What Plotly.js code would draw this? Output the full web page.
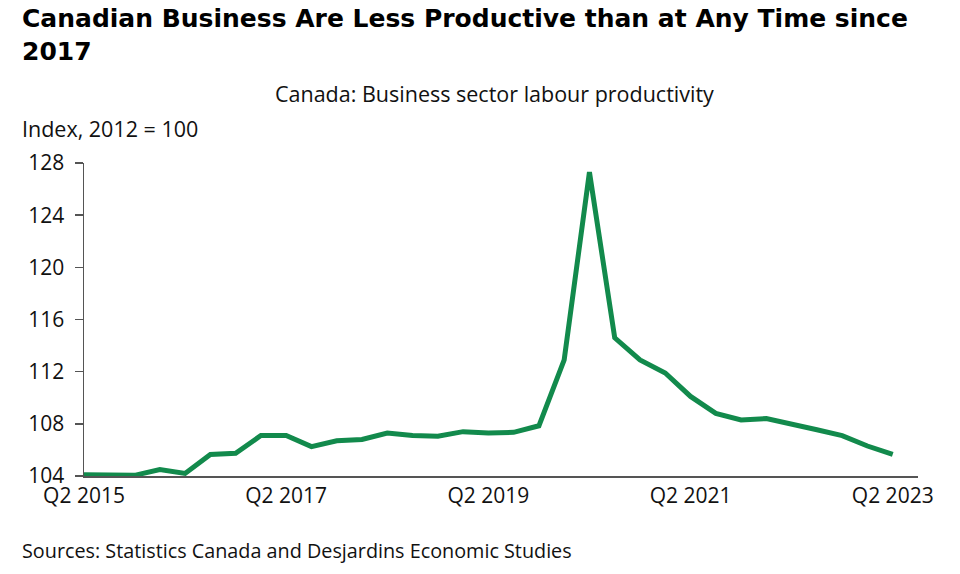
<!DOCTYPE html>
<html>
<head>
<meta charset="utf-8">
<script src="https://cdn.plot.ly/plotly-3.0.1.min.js"></script>
<style>
html, body { margin: 0; padding: 0; background: #fff; }
#chart { width: 960px; height: 574px; }
</style>
</head>
<body>
<div id="chart"></div>
<script>
// Quarters from Q2 2015 to Q2 2023
const quarters = [
  "Q2 2015","Q3 2015","Q4 2015",
  "Q1 2016","Q2 2016","Q3 2016","Q4 2016",
  "Q1 2017","Q2 2017","Q3 2017","Q4 2017",
  "Q1 2018","Q2 2018","Q3 2018","Q4 2018",
  "Q1 2019","Q2 2019","Q3 2019","Q4 2019",
  "Q1 2020","Q2 2020","Q3 2020","Q4 2020",
  "Q1 2021","Q2 2021","Q3 2021","Q4 2021",
  "Q1 2022","Q2 2022","Q3 2022","Q4 2022",
  "Q1 2023","Q2 2023"
];
// Business sector labour productivity, index 2012 = 100
const productivity = [
  104.1, 104.1, 104.05,
  104.5, 104.2, 105.65, 105.75,
  107.1, 107.1, 106.25, 106.7,
  106.8, 107.3, 107.1, 107.05,
  107.4, 107.3, 107.35, 107.85,
  112.9, 127.3, 114.6, 112.9,
  111.9, 110.1, 108.8, 108.3,
  108.4, 108.0, 107.55, 107.1,
  106.3, 105.65
];
const xTickLabels = ["Q2 2015","Q2 2017","Q2 2019","Q2 2021","Q2 2023"];
const yTicks = [104, 108, 112, 116, 120, 124, 128];

const FONT = "Open Sans, Noto Sans, sans-serif";
const TITLE_FONT = "DejaVu Sans, Open Sans, sans-serif";

// plot area geometry helpers (pixels -> paper coords)
const L = 84, R = 42, T = 163, B = 98, W = 960, H = 574;
const PW = W - L - R, PH = H - T - B;
const px = x => (x - L) / PW;
const py = y => (H - B - y) / PH;

const trace = {
  x: quarters,
  y: productivity,
  type: "scatter",
  mode: "lines",
  line: { color: "#128a4c", width: 5 },
  hoverinfo: "x+y"
};

const layout = {
  width: W,
  height: H,
  paper_bgcolor: "#ffffff",
  plot_bgcolor: "#ffffff",
  showlegend: false,
  margin: { l: L, r: R, t: T, b: B },
  font: { family: FONT, size: 21, color: "#111" },
  xaxis: {
    type: "category",
    range: [0, 33],
    tickmode: "array",
    tickvals: xTickLabels,
    ticktext: xTickLabels,
    showgrid: false,
    zeroline: false,
    showline: true,
    linecolor: "#555",
    linewidth: 1.5,
    ticks: "",
    tickfont: { family: FONT, size: 21, color: "#111" }
  },
  yaxis: {
    range: [104, 128],
    tickmode: "array",
    tickvals: yTicks,
    showgrid: false,
    zeroline: false,
    showline: true,
    linecolor: "#555",
    linewidth: 1.5,
    ticks: "outside",
    ticklen: 8,
    tickwidth: 1.5,
    tickcolor: "#555",
    ticklabelstandoff: 6,
    tickfont: { family: FONT, size: 21, color: "#111" }
  },
  annotations: [
    {
      text: "<b>Canadian Business Are Less Productive than at Any Time since<br>2017</b>",
      xref: "paper", yref: "paper",
      x: px(20), y: py(2),
      xanchor: "left", yanchor: "top", align: "left",
      showarrow: false,
      font: { family: TITLE_FONT, size: 25, color: "#000" }
    },
    {
      text: "Canada: Business sector labour productivity",
      xref: "paper", yref: "paper",
      x: px(494), y: py(94),
      xanchor: "center", yanchor: "middle",
      showarrow: false,
      font: { family: FONT, size: 21.5, color: "#111" }
    },
    {
      text: "Index, 2012 = 100",
      xref: "paper", yref: "paper",
      x: px(20), y: py(128),
      xanchor: "left", yanchor: "middle",
      showarrow: false,
      font: { family: FONT, size: 21.5, color: "#111" }
    },
    {
      text: "Sources: Statistics Canada and Desjardins Economic Studies",
      xref: "paper", yref: "paper",
      x: px(20), y: py(550),
      xanchor: "left", yanchor: "middle",
      showarrow: false,
      font: { family: FONT, size: 19.8, color: "#111" }
    }
  ]
};

Plotly.newPlot("chart", [trace], layout, { displayModeBar: false, staticPlot: true });
</script>
</body>
</html>
